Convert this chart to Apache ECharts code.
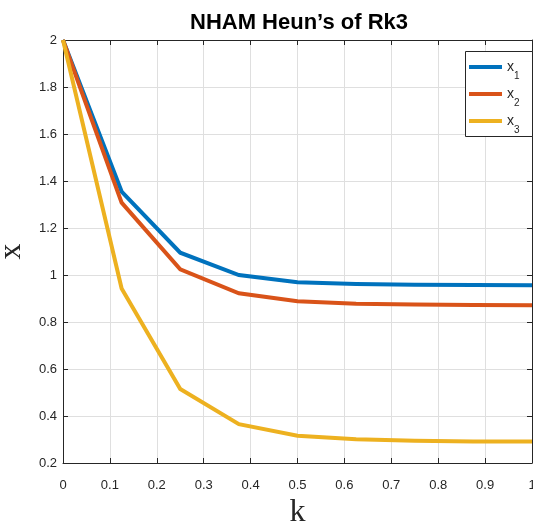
<!DOCTYPE html>
<html>
<head>
<meta charset="utf-8">
<script src="https://cdn.jsdelivr.net/npm/echarts@6/dist/echarts.min.js"></script>
<style>html,body{margin:0;padding:0;background:#fff}#c{width:533px;height:525px}</style>
</head>
<body>
<div id="c"></div>
<script>
// ---- data ----
var titleText = 'NHAM Heun\u2019s of Rk3';
var kValues = [0, 0.125, 0.25, 0.375, 0.5, 0.625, 0.75, 0.875, 1];
var x1Values = [2, 1.355, 1.095, 1.0, 0.969, 0.962, 0.959, 0.957, 0.956];
var x2Values = [2, 1.308, 1.024, 0.922, 0.888, 0.878, 0.874, 0.872, 0.871];
var x3Values = [2, 0.943, 0.515, 0.365, 0.316, 0.301, 0.295, 0.292, 0.291];
var seriesNames = ['x1', 'x2', 'x3'];
var xAxisName = 'k';
var yAxisName = 'x';

function pairs(xs, ys) { return xs.map(function (x, i) { return [x, ys[i]]; }); }

var colors = ['#0072BD', '#D95319', '#EDB120'];
var sans = '"Liberation Sans", Arial, Helvetica, sans-serif';
var serif = '"Liberation Serif", "Times New Roman", serif';
var axisColor = '#262626';
var gridColor = '#dfdfdf';

var chart = echarts.init(document.getElementById('c'), null, {renderer: 'canvas'});
var allY = [x1Values, x2Values, x3Values];

var option = {
  animation: false,
  backgroundColor: '#ffffff',
  title: {
    text: titleText,
    left: 294, textAlign: 'center',
    top: 7,
    textStyle: {fontFamily: sans, fontSize: 22, fontWeight: 'bold', color: '#000'}
  },
  graphic: [{
    type: 'rect', left: 465, top: 51, z: 50,
    shape: {width: 67, height: 85},
    style: {fill: '#fff', stroke: axisColor, lineWidth: 1}
  }],
  legend: {
    orient: 'vertical',
    left: 469, top: 60, z: 60,
    data: seriesNames,
    icon: 'rect',
    itemWidth: 33, itemHeight: 4,
    itemGap: 6, itemTextGap: 3,
    padding: 0,
    borderWidth: 0,
    formatter: function (name) { return '{b|x}{s|' + name.slice(1) + '}'; },
    textStyle: {
      fontFamily: sans, color: axisColor,
      rich: {
        b: {fontFamily: sans, fontSize: 14, lineHeight: 14, padding: [0, 0, 0, 0], verticalAlign: 'top', color: axisColor},
        s: {fontFamily: sans, fontSize: 10, lineHeight: 10, padding: [11, 0, 0, 0], verticalAlign: 'top', color: axisColor}
      }
    }
  },
  grid: {left: 63, right: 1, top: 40, bottom: 62, containLabel: false, outerBoundsMode: 'none'},
  xAxis: [{
    type: 'value', min: 0, max: 1, interval: 0.1,
    name: xAxisName, nameLocation: 'middle', nameGap: 31,
    nameTextStyle: {fontFamily: serif, fontSize: 32, color: axisColor},
    axisLine: {show: true, onZero: false, lineStyle: {color: axisColor, width: 1}},
    axisTick: {show: true, inside: true, length: 5, lineStyle: {color: axisColor}},
    axisLabel: {fontFamily: sans, fontSize: 13, color: axisColor, margin: 16},
    splitLine: {show: true, lineStyle: {color: gridColor, width: 1}}
  }, {
    type: 'value', min: 0, max: 1, interval: 0.1, position: 'top',
    axisLine: {show: true, onZero: false, lineStyle: {color: axisColor, width: 1}},
    axisTick: {show: true, inside: true, length: 5, lineStyle: {color: axisColor}},
    axisLabel: {show: false}, splitLine: {show: false}
  }],
  yAxis: [{
    type: 'value', min: 0.2, max: 2, interval: 0.2,
    name: yAxisName, nameLocation: 'middle', nameGap: 29,
    nameTextStyle: {fontFamily: serif, fontSize: 32, color: axisColor},
    axisLine: {show: true, onZero: false, lineStyle: {color: axisColor, width: 1}},
    axisTick: {show: true, inside: true, length: 5, lineStyle: {color: axisColor}},
    axisLabel: {fontFamily: sans, fontSize: 13, color: axisColor, margin: 6},
    splitLine: {show: true, lineStyle: {color: gridColor, width: 1}}
  }, {
    type: 'value', min: 0.2, max: 2, interval: 0.2, position: 'right',
    axisLine: {show: true, onZero: false, lineStyle: {color: axisColor, width: 1}},
    axisTick: {show: true, inside: true, length: 5, lineStyle: {color: axisColor}},
    axisLabel: {show: false}, splitLine: {show: false}
  }],
  series: seriesNames.map(function (n, i) {
    return {
      name: n, type: 'line', xAxisIndex: 0, yAxisIndex: 0,
      data: pairs(kValues, allY[i]),
      showSymbol: false, symbol: 'none',
      lineStyle: {color: colors[i], width: 4, join: 'miter'},
      itemStyle: {color: colors[i]},
      z: 2 + i
    };
  })
};
chart.setOption(option);
</script>
</body>
</html>
